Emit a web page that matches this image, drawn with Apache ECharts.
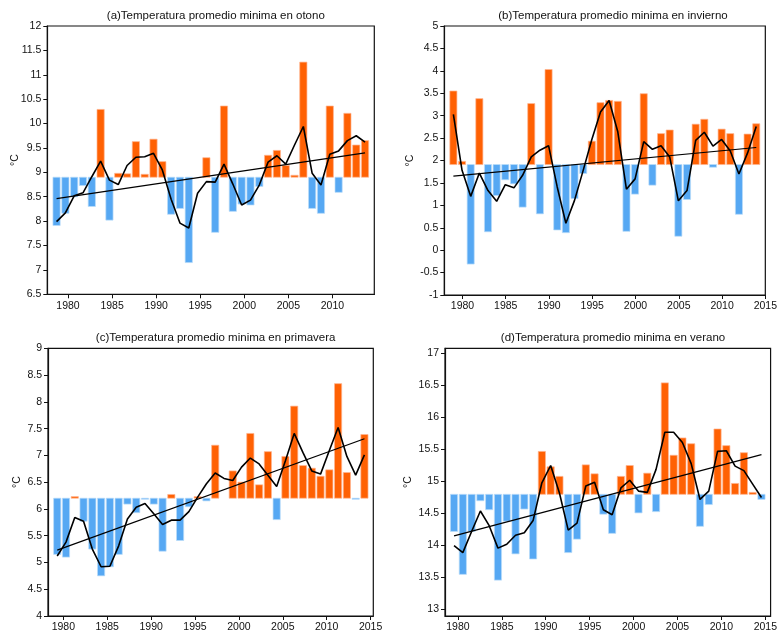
<!DOCTYPE html>
<html>
<head>
<meta charset="utf-8">
<script src="https://cdn.jsdelivr.net/npm/echarts@6/dist/echarts.min.js"></script>
<style>html,body{margin:0;padding:0;background:#fff}#c{width:780px;height:633px}</style>
</head>
<body>
<div id="c"></div>
<script>
const years = [1979,1980,1981,1982,1983,1984,1985,1986,1987,1988,1989,1990,1991,1992,1993,1994,1995,1996,1997,1998,1999,2000,2001,2002,2003,2004,2005,2006,2007,2008,2009,2010,2011,2012,2013,2014];
const xTicksA = [1980,1985,1990,1995,2000,2005,2010];
const xTicksFull = [1980,1985,1990,1995,2000,2005,2010,2015];
const yTicksA = [6.5,7,7.5,8,8.5,9,9.5,10,10.5,11,11.5,12];
const yTicksB = [-1,-0.5,0,0.5,1,1.5,2,2.5,3,3.5,4,4.5,5];
const yTicksC = [4,4.5,5,5.5,6,6.5,7,7.5,8,8.5,9];
const yTicksD = [13,13.5,14,14.5,15,15.5,16,16.5,17];

const otonoBase = 8.9;
const otonoBars = [7.91,8.16,8.50,8.73,8.30,10.29,8.02,8.98,8.97,9.63,8.96,9.68,9.22,8.14,8.26,7.15,8.90,9.30,7.77,10.36,8.20,8.35,8.33,8.71,9.35,9.45,9.14,8.94,11.26,8.26,8.16,10.36,8.59,10.21,9.56,9.65];
const otonoSmooth = [7.99,8.17,8.52,8.58,8.91,9.23,8.84,8.75,9.14,9.31,9.32,9.39,9.05,8.45,7.96,7.86,8.57,8.81,8.80,9.17,8.76,8.33,8.43,8.74,9.21,9.34,9.17,9.56,9.94,8.98,8.74,9.37,9.44,9.65,9.75,9.62];
const otonoTrend = [8.46, 9.40];

const inviernoBase = 1.91;
const inviernoBars = [3.55,1.98,-0.31,3.38,0.41,1.22,1.57,1.48,0.96,3.27,0.81,4.03,0.45,0.39,1.15,1.71,2.43,3.29,3.34,3.32,0.42,1.25,3.49,1.45,2.60,2.68,0.31,1.13,2.81,2.92,1.85,2.70,2.60,0.80,2.59,2.82];
const inviernoSmooth = [3.03,1.78,1.20,1.72,1.33,1.09,1.46,1.39,1.67,2.08,2.23,2.33,1.41,0.60,1.11,1.78,2.47,3.08,3.34,2.64,1.36,1.59,2.42,2.25,2.33,2.08,1.10,1.33,2.45,2.63,2.32,2.47,2.21,1.70,2.17,2.76];
const inviernoTrend = [1.65, 2.29];

const primaveraBase = 6.2;
const primaveraBars = [5.15,5.10,6.23,5.77,5.25,4.75,4.92,5.15,6.09,5.93,6.18,6.09,5.21,6.27,5.41,6.04,6.23,6.15,7.19,6.20,6.71,6.50,7.41,6.45,7.07,5.80,6.98,7.92,6.81,6.76,6.61,6.73,8.34,6.68,6.18,7.39];
const primaveraSmooth = [5.12,5.38,5.84,5.77,5.25,4.92,4.93,5.31,5.81,6.03,6.10,5.91,5.71,5.79,5.79,5.95,6.22,6.47,6.67,6.57,6.53,6.78,6.95,6.84,6.63,6.42,6.90,7.41,7.05,6.71,6.65,7.09,7.52,6.98,6.63,7.01];
const primaveraTrend = [5.23, 7.31];

const veranoBase = 14.8;
const veranoBars = [14.22,13.55,14.22,14.70,14.56,13.46,14.38,13.87,14.57,13.79,15.47,15.23,15.08,13.89,14.10,15.26,15.12,14.49,14.19,15.08,15.25,14.51,15.13,14.53,16.54,15.41,15.68,15.59,14.30,14.64,15.82,15.56,14.97,15.45,14.83,14.72];
const veranoSmooth = [14.00,13.89,14.22,14.54,14.31,13.96,14.02,14.16,14.20,14.39,14.98,15.25,14.82,14.24,14.35,14.93,14.99,14.56,14.48,14.90,15.02,14.85,14.83,15.19,15.77,15.77,15.61,15.28,14.72,14.85,15.47,15.48,15.24,15.17,14.96,14.75];
const veranoTrend = [14.15, 15.42];

const titles = ['(a)Temperatura promedio minima en otono','(b)Temperatura promedio minima en invierno','(c)Temperatura promedio minima en primavera','(d)Temperatura promedio minima en verano'];

const ORANGE = '#FF6103', ORANGE_EDGE = '#FFB590';
const BLUE = '#56A8F3', BLUE_EDGE = '#BADCF9';
const FONT = "'Liberation Sans Narrow','Liberation Sans',Arial,sans-serif";

const panels = [
  {bars: otonoBars, smooth: otonoSmooth, trend: otonoTrend, base: otonoBase, xTicks: xTicksA, yTicks: yTicksA,
   grid:{left:47.3, top:26, width:327, height:268.3}, xMin:1977.65, xMax:2014.75, off:-0.3, yMin:6.5, yMax:12, nameGap:27, titleY:5},
  {bars: inviernoBars, smooth: inviernoSmooth, trend: inviernoTrend, base: inviernoBase, xTicks: xTicksFull, yTicks: yTicksB,
   grid:{left:444.3, top:26, width:327.4, height:269}, xMin:1977.9, xMax:2015.0, off:-0.05, yMin:-1, yMax:5, nameGap:28.5, titleY:5},
  {bars: primaveraBars, smooth: primaveraSmooth, trend: primaveraTrend, base: primaveraBase, xTicks: xTicksFull, yTicks: yTicksC,
   grid:{left:48, top:348.3, width:325.3, height:269.4}, xMin:1978.25, xMax:2015.31, off:0.3, yMin:4, yMax:9, nameGap:25, titleY:327},
  {bars: veranoBars, smooth: veranoSmooth, trend: veranoTrend, base: veranoBase, xTicks: xTicksFull, yTicks: yTicksD,
   grid:{left:445, top:348.3, width:326, height:268.4}, xMin:1978.53, xMax:2015.6, off:0.56, yMin:12.9, yMax:17.08, nameGap:31.5, titleY:327}
];

const option = {animation:false, backgroundColor:'#fff', title:[], grid:[], xAxis:[], yAxis:[], series:[]};

panels.forEach((p, i) => {
  const g = p.grid;
  option.grid.push({left:g.left, top:g.top, width:g.width, height:g.height, show:true, borderColor:'#111', borderWidth:1.2, backgroundColor:'transparent'});
  option.title.push({text:titles[i], left:g.left + g.width/2, top:p.titleY, textAlign:'center',
    textStyle:{fontFamily:"'Liberation Sans',Arial,sans-serif", fontSize:11.5, fontWeight:'normal', color:'#111'}});
  option.xAxis.push({type:'value', gridIndex:i, min:p.xMin, max:p.xMax,
    axisLine:{show:true, onZero:false, lineStyle:{color:'#111', width:1.2}},
    axisTick:{show:true, length:4, customValues:p.xTicks, lineStyle:{color:'#111'}},
    axisLabel:{customValues:p.xTicks, margin:6, color:'#111', fontSize:10.5, fontFamily:FONT, showMinLabel:true, showMaxLabel:true,
      formatter: v => String(v)},
    splitLine:{show:false}});
  option.yAxis.push({type:'value', gridIndex:i, min:p.yMin, max:p.yMax,
    name:'°C', nameLocation:'middle', nameGap:p.nameGap, nameRotate:90, nameMoveOverlap:false,
    nameTextStyle:{fontFamily:FONT, fontSize:10.5, color:'#111'},
    axisLine:{show:true, onZero:false, lineStyle:{color:'#111', width:1.2}},
    axisTick:{show:true, length:4, customValues:p.yTicks, lineStyle:{color:'#111'}},
    axisLabel:{customValues:p.yTicks, margin:6, color:'#111', fontSize:10.5, fontFamily:FONT, showMinLabel:true, showMaxLabel:true,
      formatter: v => String(v)},
    splitLine:{show:false}});
  const base = p.base;
  option.series.push({type:'custom', xAxisIndex:i, yAxisIndex:i, z:2,
    data: years.map((y, k) => [y + p.off, p.bars[k]]),
    renderItem: function(params, api){
      const x = api.value(0), v = api.value(1);
      const a = api.coord([x - 0.41, base]);
      const b = api.coord([x + 0.41, v]);
      const h = Math.abs(b[1] - a[1]);
      if (h < 0.3) return null;
      const up = v >= base;
      return {type:'rect', shape:{x:a[0], y:Math.min(a[1], b[1]), width:b[0]-a[0], height:h},
        style:{fill: up ? ORANGE : BLUE, stroke: up ? ORANGE_EDGE : BLUE_EDGE, lineWidth:0.7}};
    }});
  option.series.push({type:'line', xAxisIndex:i, yAxisIndex:i, z:4, symbol:'none', showSymbol:false,
    data: [[years[0] + p.off, p.trend[0]], [years[years.length-1] + p.off, p.trend[1]]],
    lineStyle:{color:'#000', width:1.2}});
  option.series.push({type:'line', xAxisIndex:i, yAxisIndex:i, z:5, symbol:'none', showSymbol:false,
    data: years.map((y, k) => [y + p.off, p.smooth[k]]),
    lineStyle:{color:'#000', width:1.6}});
});

const chart = echarts.init(document.getElementById('c'), null, {renderer:'canvas'});
chart.setOption(option);
</script>
</body>
</html>
